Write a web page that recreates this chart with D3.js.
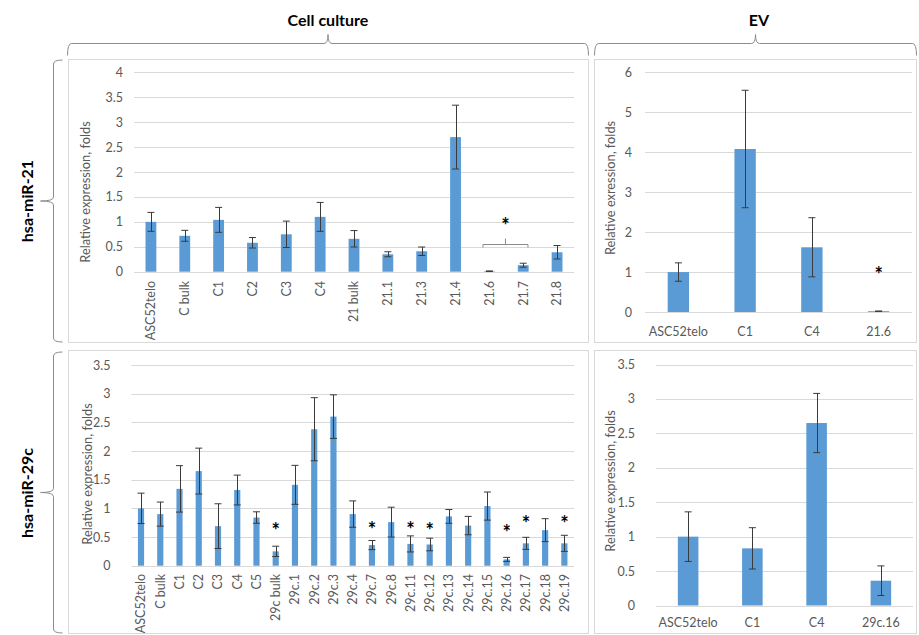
<!DOCTYPE html>
<html>
<head>
<meta charset="utf-8">
<script src="https://cdn.jsdelivr.net/npm/d3@7"></script>
<style>
  body { margin: 0; background: #fff; }
  svg { font-family: Lato, "Open Sans", sans-serif; }
</style>
</head>
<body>
<svg width="919" height="635"></svg>
<script>
// hsa-miR-21, cell culture
var mir21CellCats = ['ASC52telo', 'C bulk', 'C1', 'C2', 'C3', 'C4', '21 bulk', '21.1', '21.3', '21.4', '21.6', '21.7', '21.8'];
var mir21CellVals = [1.00, 0.72, 1.04, 0.58, 0.75, 1.10, 0.66, 0.35, 0.41, 2.70, 0.01, 0.13, 0.39];
var mir21CellErr  = [0.19, 0.11, 0.25, 0.105, 0.265, 0.29, 0.165, 0.05, 0.085, 0.64, 0.005, 0.04, 0.135];
var mir21CellTicks = [0, 0.5, 1, 1.5, 2, 2.5, 3, 3.5, 4];

// hsa-miR-21, EV
var mir21EvCats = ['ASC52telo', 'C1', 'C4', '21.6'];
var mir21EvVals = [1.00, 4.08, 1.62, 0.02];
var mir21EvErr  = [0.23, 1.47, 0.74, 0.005];
var mir21EvTicks = [0, 1, 2, 3, 4, 5, 6];
var mir21EvStars = [{cat: '21.6', y: 1.05}];

// hsa-miR-29c, cell culture
var mir29CellCats = ['ASC52telo', 'C bulk', 'C1', 'C2', 'C3', 'C4', 'C5', '29c bulk', '29c.1', '29c.2', '29c.3', '29c.4', '29c.7', '29c.8',
    '29c.11', '29c.12', '29c.13', '29c.14', '29c.15', '29c.16', '29c.17', '29c.18', '29c.19'];
var mir29CellVals = [1.00, 0.90, 1.34, 1.65, 0.69, 1.32, 0.84, 0.25, 1.41, 2.38, 2.60, 0.90, 0.36, 0.76,
    0.38, 0.37, 0.86, 0.70, 1.04, 0.11, 0.39, 0.62, 0.39];
var mir29CellErr  = [0.265, 0.21, 0.405, 0.40, 0.39, 0.26, 0.10, 0.09, 0.34, 0.55, 0.38, 0.23, 0.08, 0.26,
    0.14, 0.11, 0.12, 0.16, 0.245, 0.035, 0.105, 0.20, 0.14];
var mir29CellTicks = [0, 0.5, 1, 1.5, 2, 2.5, 3, 3.5];
var mir29CellStars = [
    {cat: '29c bulk', y: 0.68}, {cat: '29c.7', y: 0.71}, {cat: '29c.11', y: 0.71}, {cat: '29c.12', y: 0.68},
    {cat: '29c.16', y: 0.65}, {cat: '29c.17', y: 0.80}, {cat: '29c.19', y: 0.80}
];

// hsa-miR-29c, EV
var mir29EvCats = ['ASC52telo', 'C1', 'C4', '29c.16'];
var mir29EvVals = [1.00, 0.83, 2.65, 0.36];
var mir29EvErr  = [0.36, 0.30, 0.43, 0.215];
var mir29EvTicks = [0, 0.5, 1, 1.5, 2, 2.5, 3, 3.5];

// significance bracket over 21.6 / 21.7 in the first panel
var mir21Bracket = {from: '21.6', to: '21.7', y: 0.56, starY: 1.0};

var svg = d3.select('svg');
var barColor = '#5b9bd5';
var gridColor = '#d9d9d9';
var textColor = '#595959';
var braceColor = '#8c8c8c';
var starSize = 20;

// panel frames
var frames = [[68, 59, 520, 283], [594, 59, 322, 283], [68, 350, 520, 283], [594, 350, 322, 283]];
svg.selectAll('.frame').data(frames).enter().append('rect')
    .attr('class', 'frame')
    .attr('x', function(d) { return d[0] + 0.5; })
    .attr('y', function(d) { return d[1] + 0.5; })
    .attr('width', function(d) { return d[2]; })
    .attr('height', function(d) { return d[3]; })
    .attr('fill', '#fff')
    .attr('stroke', gridColor);

function addStar(g, x, y) {
    // asterisk glyph sits high in the em box, shift baseline so its centre lands on y
    g.append('text')
        .attr('x', x).attr('y', y + starSize * 0.58)
        .attr('text-anchor', 'middle')
        .style('font-size', starSize + 'px').style('font-weight', 'bold')
        .text('*');
}

function drawPanel(cfg) {
    var data = cfg.cats.map(function(c, i) { return {cat: c, v: cfg.vals[i], e: cfg.err[i]}; });
    var x = d3.scaleBand().domain(cfg.cats).range([cfg.x0, cfg.x1]).padding(0);
    var y = d3.scaleLinear().domain([0, cfg.max]).range([cfg.y0, cfg.y1]);
    var g = svg.append('g');
    var bw = x.bandwidth() * 0.32;
    var cx = function(c) { return x(c) + x.bandwidth() / 2; };

    // gridlines
    g.append('g').selectAll('line').data(cfg.ticks).enter().append('line')
        .attr('x1', cfg.x0).attr('x2', cfg.x1)
        .attr('y1', function(d) { return Math.round(y(d)) + 0.5; })
        .attr('y2', function(d) { return Math.round(y(d)) + 0.5; })
        .attr('stroke', gridColor);

    // y axis labels
    var yAxis = d3.axisLeft(y).tickValues(cfg.ticks).tickSize(0).tickPadding(cfg.labelGap)
        .tickFormat(function(d) { return d; });
    var ya = g.append('g').attr('transform', 'translate(' + cfg.x0 + ',0)').call(yAxis);
    ya.select('.domain').remove();
    ya.selectAll('text').attr('fill', textColor).style('font-size', '12.5px').style('font-family', 'Lato');

    // y title
    g.append('text')
        .attr('transform', 'translate(' + cfg.titleX + ',' + cfg.titleY + ') rotate(-90)')
        .attr('text-anchor', 'middle').attr('dy', '0.35em')
        .attr('fill', textColor).style('font-size', '12.8px')
        .text(cfg.title);

    // bars
    g.selectAll('.bar').data(data).enter().append('rect')
        .attr('class', 'bar')
        .attr('x', function(d) { return cx(d.cat) - bw / 2; })
        .attr('width', bw)
        .attr('y', function(d) { return y(d.v); })
        .attr('height', function(d) { return y(0) - y(d.v); })
        .attr('fill', barColor);

    // error bars
    var eg = g.selectAll('.err').data(data).enter().append('g').attr('class', 'err')
        .attr('stroke', '#3a3a3a').attr('stroke-width', 1);
    eg.append('line')
        .attr('x1', function(d) { return Math.round(cx(d.cat)) + 0.5; })
        .attr('x2', function(d) { return Math.round(cx(d.cat)) + 0.5; })
        .attr('y1', function(d) { return y(d.v + d.e); })
        .attr('y2', function(d) { return y(d.v - d.e); });
    [1, -1].forEach(function(s) {
        eg.append('line')
            .attr('x1', function(d) { return cx(d.cat) - 3.5; })
            .attr('x2', function(d) { return cx(d.cat) + 3.5; })
            .attr('y1', function(d) { return y(d.v + s * d.e); })
            .attr('y2', function(d) { return y(d.v + s * d.e); });
    });

    // x labels
    var xl = g.append('g').selectAll('text').data(cfg.cats).enter().append('text')
        .attr('fill', textColor).style('font-size', '12.5px')
        .text(function(d) { return d; });
    if (cfg.rotate) {
        xl.attr('transform', function(d) { return 'translate(' + cx(d) + ',' + cfg.labelY + ') rotate(-90)'; })
            .attr('text-anchor', 'end').attr('dy', '0.35em');
    } else {
        xl.attr('x', cx).attr('y', cfg.labelY).attr('text-anchor', 'middle');
    }

    // stars
    (cfg.stars || []).forEach(function(d) { addStar(g, cx(d.cat), y(d.y)); });

    return {x: x, y: y, cx: cx, g: g};
}

var p1 = drawPanel({cats: mir21CellCats, vals: mir21CellVals, err: mir21CellErr, ticks: mir21CellTicks, max: 4,
    x0: 134, x1: 574, y0: 271.7, y1: 72.3, labelGap: 11, titleX: 86, titleY: 192,
    title: 'Relative expression, folds', rotate: true, labelY: 281});
drawPanel({cats: mir21EvCats, vals: mir21EvVals, err: mir21EvErr, ticks: mir21EvTicks, max: 6,
    x0: 645, x1: 912, y0: 312, y1: 72.3, labelGap: 13, titleX: 611, titleY: 188,
    title: 'Relative exression, folds', rotate: false, labelY: 336, stars: mir21EvStars});
drawPanel({cats: mir29CellCats, vals: mir29CellVals, err: mir29CellErr, ticks: mir29CellTicks, max: 3.5,
    x0: 131.4, x1: 574, y0: 565.7, y1: 365, labelGap: 21, titleX: 88, titleY: 474,
    title: 'Relative expression, folds', rotate: true, labelY: 574, stars: mir29CellStars});
drawPanel({cats: mir29EvCats, vals: mir29EvVals, err: mir29EvErr, ticks: mir29EvTicks, max: 3.5,
    x0: 656, x1: 913, y0: 605.5, y1: 364.5, labelGap: 21, titleX: 611, titleY: 481,
    title: 'Relative expression, folds', rotate: false, labelY: 627});

// bracket with star above 21.6 and 21.7
var bw1 = p1.x.bandwidth();
var bx0 = p1.cx(mir21Bracket.from) - bw1 * 0.19;
var bx1 = p1.cx(mir21Bracket.to) + bw1 * 0.14;
var by = Math.round(p1.y(mir21Bracket.y)) + 0.5;
var bm = (bx0 + bx1) / 2;
p1.g.append('path')
    .attr('d', 'M' + bx0 + ',' + (by + 3) + 'V' + by + 'H' + bx1 + 'V' + (by + 3) + 'M' + bm + ',' + by + 'V' + (by - 6))
    .attr('fill', 'none').attr('stroke', '#8c8c8c');
addStar(p1.g, bm, p1.y(mir21Bracket.starY));

// curly braces around the panel groups
function hBrace(x0, x1, y, tip, tick) {
    var r = 4, m = (x0 + x1) / 2;
    return 'M' + x0 + ',' + (y + tip) + 'Q' + x0 + ',' + y + ' ' + (x0 + r) + ',' + y +
        'L' + (m - r) + ',' + y + 'Q' + m + ',' + y + ' ' + m + ',' + (y - tick) +
        'Q' + m + ',' + y + ' ' + (m + r) + ',' + y +
        'L' + (x1 - r) + ',' + y + 'Q' + x1 + ',' + y + ' ' + x1 + ',' + (y + tip);
}
function vBrace(x, y0, y1, tip, tick) {
    var r = 4, m = (y0 + y1) / 2;
    return 'M' + (x + tip) + ',' + y0 + 'Q' + x + ',' + y0 + ' ' + x + ',' + (y0 + r) +
        'L' + x + ',' + (m - r) + 'Q' + x + ',' + m + ' ' + (x - tick) + ',' + m +
        'Q' + x + ',' + m + ' ' + x + ',' + (m + r) +
        'L' + x + ',' + (y1 - r) + 'Q' + x + ',' + y1 + ' ' + (x + tip) + ',' + y1;
}

var braces = [hBrace(67.5, 588.5, 43.5, 12, 9), hBrace(594.5, 916.5, 43.5, 12, 9),
    vBrace(53.5, 60, 342, 9, 13), vBrace(53.5, 352, 633, 9, 13)];
svg.selectAll('.brace').data(braces).enter().append('path')
    .attr('class', 'brace')
    .attr('d', function(d) { return d; })
    .attr('fill', 'none').attr('stroke', braceColor);

// group titles
svg.append('text').attr('x', 328).attr('y', 26).attr('text-anchor', 'middle')
    .style('font-size', '16px').style('font-weight', 'bold').text('Cell culture');
svg.append('text').attr('x', 759).attr('y', 26).attr('text-anchor', 'middle')
    .style('font-size', '16px').style('font-weight', 'bold').text('EV');
svg.append('text').attr('transform', 'translate(27,201) rotate(-90)').attr('text-anchor', 'middle')
    .attr('dy', '0.35em').style('font-size', '16px').style('font-weight', 'bold').text('hsa-miR-21');
svg.append('text').attr('transform', 'translate(27,493) rotate(-90)').attr('text-anchor', 'middle')
    .attr('dy', '0.35em').style('font-size', '16px').style('font-weight', 'bold').text('hsa-miR-29c');
</script>
</body>
</html>
